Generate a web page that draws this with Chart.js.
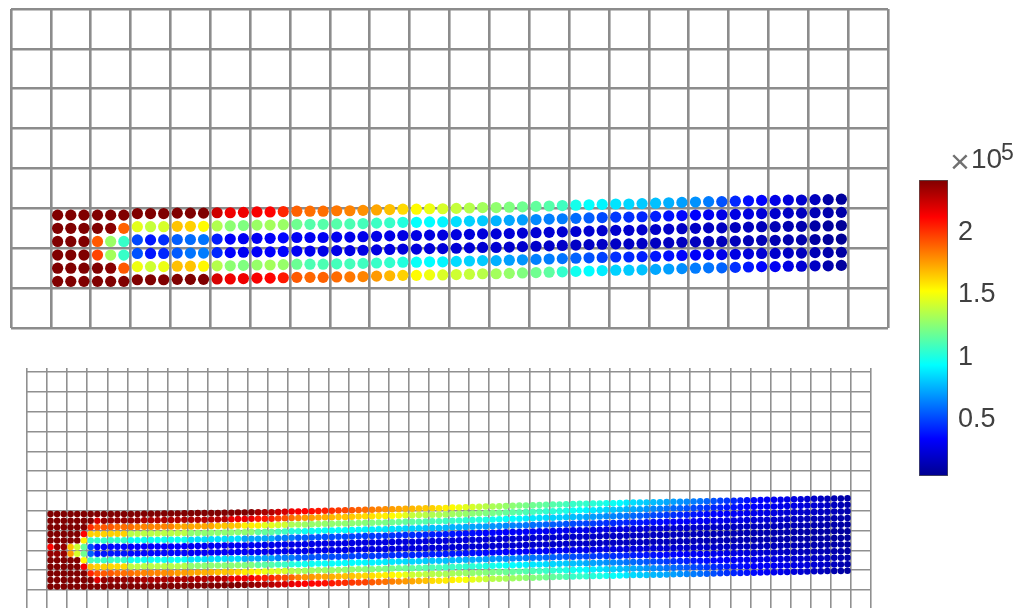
<!DOCTYPE html>
<html>
<head>
<meta charset="utf-8">
<script src="https://cdn.jsdelivr.net/npm/chart.js@4"></script>
<style>
  body { margin: 0; background: #fff; }
  canvas { position: absolute; filter: blur(0.45px); }
  #coarseMesh { left: 0; top: 0; }
  #fineMesh { left: 0; top: 360px; }
  #colorbar { left: 900px; top: 130px; }
</style>
</head>
<body>
<canvas id="coarseMesh" width="900" height="340"></canvas>
<canvas id="fineMesh" width="900" height="251"></canvas>
<canvas id="colorbar" width="119" height="360"></canvas>
<script>
// grid line positions, in mesh cells
const coarseGridX = [0,1,2,3,4,5,6,7,8,9,10,11,12,13,14,15,16,17,18,19,20,21,22];
const coarseGridY = [0,1,2,3,4,5,6,7,8];
const fineGridX = [0,1,2,3,4,5,6,7,8,9,10,11,12,13,14,15,16,17,18,19,20,21,22,23,24,25,26,27,28,29,30,31,32,33,34,35,36,37,38,39,40,41,42];
const fineGridY = [1,2,3,4,5,6,7,8,9,10,11,12];

// colorbar
const colorbarTicks = [0.5, 1, 1.5, 2];
const stressMin = 0.037;
const stressMax = 2.4;

// coarse mesh: node columns, node rows (top first), upward deflection per column
const coarseX = [1.17,1.5,1.83,2.17,2.5,2.83,3.17,3.5,3.83,4.17,4.5,4.83,5.17,5.5,5.83,6.17,6.5,6.83,7.17,7.5,7.83,8.17,8.5,8.83,9.17,9.5,9.83,10.17,10.5,10.83,
  11.17,11.5,11.83,12.17,12.5,12.83,13.17,13.5,13.83,14.17,14.5,14.83,15.17,15.5,15.83,16.17,16.5,16.83,17.17,17.5,17.83,18.17,18.5,18.83,19.17,19.5,19.83,20.17,20.5,20.83];
const coarseY = [2.83,2.5,2.17,1.83,1.5,1.17];
const coarseLift = [0,0,0,0,0,0,.04,.04,.04,.05,.05,.05,.06,.06,.07,.08,.08,.09,.1,.1,.1,.11,.11,.12,.13,.14,.15,.15,.16,.16,
  .17,.18,.19,.19,.2,.21,.22,.23,.24,.25,.26,.27,.28,.28,.29,.3,.31,.32,.33,.34,.34,.35,.36,.37,.37,.38,.38,.39,.39,.4];

// coarse mesh stress, x10^5, one row per list
const coarseRow0 = [2.4,2.4,2.4,2.4,2.4,2.4,2.4,2.4,2.4,2.4,2.4,2.4,2.22,2.14,2.14,2.12,2.1,2.02,1.88,1.85,
  1.85,1.83,1.8,1.77,1.72,1.66,1.6,1.52,1.47,1.42,1.38,1.34,1.3,1.26,1.22,1.18,1.15,1.12,1.07,.97,
  .93,.9,.86,.83,.8,.78,.74,.7,.67,.62,.52,.42,.36,.33,.27,.24,.2,.16,.1,.07];
const coarseRow1 = [2.4,2.4,2.4,2.4,2.38,1.88,1.45,1.38,1.42,1.65,1.62,1.52,1.33,1.25,1.22,1.28,1.3,1.28,1.18,1.12,
  1.12,1.12,1.1,1.08,1.06,1.05,1,.93,.92,.9,.85,.82,.8,.75,.72,.7,.65,.63,.62,.58,
  .55,.5,.46,.44,.42,.4,.37,.35,.33,.3,.27,.26,.25,.23,.2,.18,.16,.14,.12,.1];
const coarseRow2 = [2.4,2.4,2.4,1.9,1.28,1.05,.5,.38,.44,.55,.58,.6,.4,.32,.3,.3,.32,.34,.3,.3,
  .3,.29,.28,.28,.27,.27,.26,.26,.25,.25,.25,.24,.24,.23,.23,.22,.22,.22,.21,.21,
  .21,.2,.2,.2,.2,.19,.19,.18,.18,.17,.17,.16,.16,.15,.14,.13,.12,.1,.08,.06];
const coarseRow3 = [2.4,2.4,2.4,1.95,1.3,1.05,.52,.38,.42,.54,.6,.62,.42,.33,.3,.31,.33,.34,.3,.29,
  .27,.27,.26,.26,.25,.25,.24,.24,.23,.23,.22,.22,.21,.21,.2,.2,.19,.19,.19,.18,
  .18,.18,.18,.18,.18,.17,.17,.17,.16,.16,.15,.15,.14,.14,.13,.12,.11,.09,.07,.05];
const coarseRow4 = [2.4,2.4,2.4,2.4,2.38,1.9,1.48,1.4,1.47,1.66,1.65,1.53,1.34,1.25,1.22,1.27,1.3,1.27,1.17,1.1,
  1.1,1.08,1.08,1.07,1.05,1.04,1,.94,.92,.9,.84,.82,.8,.74,.7,.68,.63,.62,.6,.56,
  .52,.48,.44,.42,.4,.38,.36,.34,.32,.3,.28,.26,.24,.22,.2,.18,.16,.14,.12,.09];
const coarseRow5 = [2.4,2.4,2.4,2.4,2.4,2.4,2.4,2.4,2.4,2.4,2.4,2.4,2.2,2.14,2.14,2.12,2.1,2.05,1.9,1.87,
  1.88,1.86,1.83,1.8,1.75,1.68,1.62,1.52,1.48,1.43,1.4,1.38,1.35,1.3,1.27,1.22,1.18,1.14,1.04,.96,
  .92,.88,.82,.8,.78,.72,.7,.66,.62,.6,.56,.44,.38,.34,.3,.26,.22,.18,.12,.08];
const coarseStress = [coarseRow0, coarseRow1, coarseRow2, coarseRow3, coarseRow4, coarseRow5];

// fine mesh: same layout, twice the nodes
const fineX = [1.17,1.5,1.83,2.17,2.5,2.83,3.17,3.5,3.83,4.17,4.5,4.83,5.17,5.5,5.83,6.17,6.5,6.83,7.17,7.5,7.83,8.17,8.5,8.83,9.17,9.5,9.83,10.17,10.5,10.83,
  11.17,11.5,11.83,12.17,12.5,12.83,13.17,13.5,13.83,14.17,14.5,14.83,15.17,15.5,15.83,16.17,16.5,16.83,17.17,17.5,17.83,18.17,18.5,18.83,19.17,19.5,19.83,20.17,20.5,20.83,
  21.17,21.5,21.83,22.17,22.5,22.83,23.17,23.5,23.83,24.17,24.5,24.83,25.17,25.5,25.83,26.17,26.5,26.83,27.17,27.5,27.83,28.17,28.5,28.83,29.17,29.5,29.83,30.17,30.5,30.83,
  31.17,31.5,31.83,32.17,32.5,32.83,33.17,33.5,33.83,34.17,34.5,34.83,35.17,35.5,35.83,36.17,36.5,36.83,37.17,37.5,37.83,38.17,38.5,38.83,39.17,39.5,39.83,40.17,40.5,40.83];
const fineY = [4.83,4.5,4.17,3.83,3.5,3.17,2.83,2.5,2.17,1.83,1.5,1.17];
const fineLift = [0,0,0,0,0,0,0,0,0,.01,.01,.01,.01,.01,.02,.02,.02,.03,.03,.03,
  .04,.04,.05,.05,.06,.06,.07,.07,.08,.08,.09,.09,.1,.1,.11,.12,.13,.13,.14,.15,
  .16,.17,.17,.18,.19,.2,.21,.22,.22,.23,.24,.25,.26,.27,.27,.28,.29,.3,.3,.31,
  .33,.34,.35,.36,.37,.38,.39,.4,.41,.42,.43,.44,.45,.46,.47,.48,.49,.5,.51,.52,
  .52,.53,.54,.55,.55,.56,.57,.58,.58,.59,.6,.6,.61,.62,.63,.63,.64,.65,.65,.66,
  .67,.68,.68,.69,.7,.7,.71,.72,.72,.73,.74,.75,.75,.76,.77,.77,.78,.79,.79,.8];

const fineRow0 = [2.4,2.4,2.4,2.4,2.4,2.4,2.4,2.4,2.4,2.4,2.4,2.4,2.4,2.4,2.4,2.4,2.4,2.4,2.4,2.4,2.4,2.4,2.4,2.4,2.4,2.4,2.4,2.4,2.4,2.4,
  2.4,2.32,2.3,2.28,2.22,2.2,2.14,2.12,2.1,2.08,2.05,2.03,2,1.97,1.94,1.91,1.88,1.85,1.82,1.8,1.77,1.74,1.72,1.7,1.68,1.66,1.64,1.62,1.58,1.55,
  1.52,1.48,1.45,1.42,1.38,1.35,1.32,1.3,1.27,1.25,1.22,1.2,1.18,1.16,1.14,1.12,1.1,1.08,1.05,1.05,1.04,1.02,1,.97,.95,.92,.88,.85,.82,.8,
  .77,.75,.72,.7,.67,.65,.62,.6,.56,.52,.48,.45,.42,.4,.37,.35,.33,.32,.3,.28,.27,.25,.23,.21,.19,.17,.15,.13,.11,.1];
const fineRow1 = [2.4,2.4,2.4,2.4,2.4,2.4,2.4,2.2,2.35,2.35,2.35,2.35,2.35,2.35,2.3,2.3,2.3,2.3,2.3,2.3,2.3,2.3,2.3,2.28,2.28,2.28,2.28,2.15,2.15,2.15,
  2.15,2.05,2.05,2.03,1.95,1.92,1.85,1.8,1.75,1.74,1.72,1.7,1.68,1.66,1.65,1.64,1.62,1.6,1.58,1.56,1.55,1.52,1.5,1.45,1.38,1.36,1.35,1.33,1.32,1.31,
  1.3,1.28,1.27,1.25,1.24,1.22,1.2,1.18,1.16,1.14,1.12,1.1,1.08,1.06,1.04,1.02,1,.98,.95,.93,.9,.88,.85,.83,.8,.78,.75,.73,.7,.68,
  .65,.62,.6,.57,.55,.52,.5,.47,.45,.42,.4,.38,.37,.35,.34,.33,.32,.31,.29,.28,.27,.26,.25,.23,.22,.2,.18,.16,.14,.12];
const fineRow2 = [2.4,2.4,2.4,2.4,2.4,2.4,2,1.9,1.9,1.9,1.85,1.85,1.85,1.8,1.8,1.8,1.8,1.8,1.8,1.72,1.72,1.72,1.72,1.72,1.72,1.65,1.65,1.65,1.65,1.55,
  1.55,1.55,1.45,1.45,1.42,1.4,1.32,1.3,1.28,1.27,1.27,1.26,1.26,1.25,1.25,1.25,1.24,1.23,1.22,1.21,1.2,1.18,1.17,1.15,1.14,1.12,1.11,1.09,1.08,1.06,
  1.05,1.04,1.02,1.01,1,.98,.96,.95,.93,.92,.9,.88,.87,.85,.84,.82,.81,.8,.78,.75,.72,.7,.68,.66,.64,.62,.6,.57,.55,.52,
  .5,.48,.46,.44,.42,.4,.38,.37,.35,.34,.33,.32,.31,.3,.29,.28,.27,.26,.25,.23,.22,.21,.2,.19,.18,.17,.16,.15,.13,.12];
const fineRow3 = [2.4,2.4,2.4,2.4,2.4,2.1,1.62,1.62,1.62,1.62,1.62,1.62,1.35,1.35,1.35,1.35,1.35,1.35,1.35,1.35,1.35,1.25,1.25,1.25,1.25,1.25,1.25,1.25,1.25,1.25,
  1.25,1.15,1.15,1.14,1.08,1.07,1,1,.95,.95,.94,.94,.93,.93,.92,.92,.91,.9,.89,.88,.87,.86,.84,.83,.82,.81,.79,.78,.77,.76,
  .75,.74,.73,.72,.71,.7,.68,.67,.65,.64,.62,.61,.59,.58,.56,.55,.54,.52,.5,.49,.48,.47,.45,.44,.43,.42,.41,.39,.38,.37,
  .36,.35,.34,.33,.32,.32,.31,.3,.29,.28,.27,.26,.25,.25,.24,.23,.22,.21,.2,.19,.18,.17,.16,.15,.14,.14,.13,.12,.11,.1];
const fineRow4 = [2.4,2.4,2.4,2.4,2.4,1.55,1.05,1.05,1.05,1.05,1.05,1.05,.95,.95,.95,.95,.95,.95,.95,.95,.95,.85,.85,.85,.85,.85,.85,.85,.85,.72,
  .72,.72,.72,.72,.62,.62,.62,.55,.55,.54,.53,.52,.52,.51,.5,.5,.49,.48,.47,.46,.45,.45,.44,.43,.43,.42,.41,.4,.39,.39,
  .38,.37,.37,.36,.35,.34,.34,.33,.33,.32,.32,.32,.31,.31,.3,.3,.3,.29,.28,.28,.27,.27,.26,.26,.25,.25,.24,.24,.23,.23,
  .22,.22,.21,.21,.2,.2,.2,.19,.19,.18,.18,.18,.17,.17,.17,.16,.16,.16,.15,.15,.14,.14,.13,.13,.12,.12,.11,.11,.1,.09];
const fineRow5 = [2.1,2.35,2.35,1.65,1.4,1.15,.5,.35,.35,.35,.35,.35,.33,.33,.33,.33,.33,.33,.33,.33,.33,.3,.3,.3,.3,.3,.3,.3,.3,.3,
  .3,.29,.28,.28,.28,.28,.27,.27,.27,.27,.27,.26,.26,.26,.26,.26,.25,.25,.25,.25,.25,.25,.24,.24,.24,.24,.24,.23,.23,.23,
  .23,.23,.23,.23,.22,.22,.22,.22,.22,.22,.21,.21,.21,.21,.2,.2,.2,.2,.19,.19,.19,.19,.18,.18,.18,.18,.18,.17,.17,.17,
  .17,.16,.16,.16,.16,.15,.15,.15,.15,.14,.14,.14,.14,.13,.13,.13,.13,.12,.12,.12,.12,.11,.11,.1,.1,.1,.09,.09,.08,.07];
const fineRow6 = [2.35,2.35,2.35,1.75,1.42,1.18,.55,.38,.38,.38,.38,.38,.35,.35,.35,.35,.35,.35,.35,.35,.35,.31,.31,.31,.31,.31,.31,.31,.31,.31,
  .31,.3,.29,.29,.29,.28,.28,.28,.27,.27,.27,.27,.27,.26,.26,.26,.26,.25,.25,.25,.25,.24,.24,.24,.24,.24,.23,.23,.23,.23,
  .22,.22,.22,.22,.22,.22,.21,.21,.21,.21,.21,.2,.2,.2,.2,.19,.19,.19,.19,.19,.18,.18,.18,.18,.18,.17,.17,.17,.17,.16,
  .16,.16,.16,.15,.15,.15,.15,.14,.14,.14,.14,.13,.13,.13,.13,.12,.12,.12,.12,.11,.11,.11,.1,.1,.1,.09,.09,.08,.08,.07];
const fineRow7 = [2.4,2.4,2.4,2.4,2.4,1.52,1.08,1.06,1.06,1.05,1.05,1.05,.96,.96,.95,.95,.95,.95,.95,.94,.94,.86,.86,.85,.85,.85,.85,.84,.84,.74,
  .73,.72,.72,.71,.63,.62,.62,.56,.54,.53,.52,.52,.51,.5,.5,.49,.48,.47,.47,.46,.45,.44,.44,.43,.42,.42,.41,.4,.4,.39,
  .38,.38,.37,.36,.36,.35,.34,.34,.33,.33,.32,.32,.31,.31,.31,.3,.3,.29,.29,.28,.28,.27,.27,.26,.26,.25,.25,.24,.24,.23,
  .23,.22,.22,.21,.21,.2,.2,.2,.19,.19,.18,.18,.18,.17,.17,.16,.16,.16,.15,.15,.14,.14,.13,.13,.12,.12,.11,.1,.1,.08];
const fineRow8 = [2.4,2.4,2.4,2.4,2.4,2.12,1.65,1.62,1.62,1.6,1.6,1.6,1.36,1.36,1.35,1.35,1.35,1.35,1.34,1.34,1.34,1.26,1.25,1.25,1.25,1.24,1.24,1.24,1.24,1.22,
  1.22,1.14,1.14,1.12,1.07,1.06,1,.98,.96,.95,.95,.94,.94,.93,.93,.92,.92,.91,.9,.89,.88,.87,.85,.84,.83,.82,.8,.79,.78,.77,
  .76,.75,.74,.73,.72,.71,.69,.68,.66,.65,.63,.62,.6,.59,.57,.56,.54,.53,.51,.5,.49,.47,.46,.45,.44,.43,.41,.4,.39,.38,
  .37,.36,.35,.34,.33,.32,.31,.3,.3,.29,.28,.27,.26,.25,.24,.23,.22,.21,.2,.19,.18,.17,.16,.15,.15,.14,.13,.12,.11,.09];
const fineRow9 = [2.4,2.4,2.4,2.4,2.4,2.4,2.02,1.92,1.9,1.9,1.86,1.85,1.85,1.82,1.8,1.8,1.8,1.78,1.78,1.74,1.74,1.72,1.72,1.7,1.7,1.66,1.65,1.65,1.62,1.56,
  1.55,1.54,1.47,1.45,1.44,1.42,1.34,1.32,1.3,1.29,1.28,1.28,1.27,1.27,1.26,1.26,1.25,1.24,1.23,1.22,1.21,1.2,1.18,1.17,1.15,1.13,1.12,1.1,1.09,1.07,
  1.06,1.05,1.03,1.02,1,.99,.97,.95,.94,.92,.9,.89,.87,.86,.84,.83,.81,.8,.78,.76,.73,.71,.69,.67,.65,.63,.6,.58,.55,.53,
  .5,.48,.46,.44,.42,.4,.38,.37,.36,.34,.33,.32,.31,.3,.29,.28,.27,.26,.25,.24,.22,.21,.2,.19,.18,.17,.16,.14,.13,.11];
const fineRow10 = [2.4,2.4,2.4,2.4,2.4,2.4,2.4,2.18,2.35,2.35,2.35,2.35,2.35,2.33,2.3,2.3,2.3,2.3,2.3,2.3,2.3,2.3,2.28,2.28,2.28,2.28,2.26,2.17,2.15,2.15,
  2.13,2.06,2.04,2.02,1.96,1.93,1.87,1.8,1.76,1.75,1.73,1.72,1.7,1.68,1.66,1.65,1.63,1.61,1.59,1.57,1.55,1.53,1.51,1.46,1.4,1.38,1.36,1.35,1.33,1.32,
  1.31,1.29,1.28,1.26,1.25,1.23,1.21,1.19,1.17,1.15,1.13,1.11,1.09,1.07,1.05,1.03,1,.98,.96,.93,.91,.88,.86,.83,.81,.78,.76,.73,.71,.68,
  .66,.63,.6,.58,.55,.53,.5,.48,.45,.43,.41,.39,.37,.36,.34,.33,.32,.31,.3,.28,.27,.26,.25,.24,.22,.2,.18,.16,.13,.11];
const fineRow11 = [2.4,2.4,2.4,2.4,2.4,2.4,2.4,2.4,2.4,2.4,2.4,2.4,2.4,2.4,2.4,2.4,2.4,2.4,2.4,2.4,2.4,2.4,2.4,2.4,2.4,2.4,2.4,2.4,2.4,2.38,
  2.36,2.34,2.3,2.28,2.24,2.2,2.16,2.13,2.11,2.1,2.09,2.07,2.05,2.02,2,1.98,1.96,1.95,1.9,1.87,1.84,1.81,1.78,1.75,1.72,1.69,1.66,1.6,1.58,1.56,
  1.55,1.52,1.5,1.46,1.42,1.38,1.35,1.33,1.31,1.29,1.28,1.25,1.23,1.21,1.18,1.15,1.13,1.1,1.05,1.05,1.03,1.01,.99,.96,.94,.91,.87,.84,.81,.79,
  .76,.74,.72,.7,.67,.64,.62,.59,.55,.51,.47,.44,.41,.39,.37,.35,.33,.31,.29,.28,.26,.24,.22,.2,.18,.16,.14,.12,.1,.08];
const fineStress = [fineRow0, fineRow1, fineRow2, fineRow3, fineRow4, fineRow5, fineRow6, fineRow7, fineRow8, fineRow9, fineRow10, fineRow11];

// MATLAB jet
const jetPos = [0, 0.125, 0.375, 0.625, 0.875, 1];
const jetRgb = [[0,0,143],[0,0,255],[0,255,255],[255,255,0],[255,0,0],[128,0,0]];

function jetColor(v) {
    const t = Math.min(1, Math.max(0, (v - stressMin) / (stressMax - stressMin)));
    let i = 0;
    while (i < jetPos.length - 2 && t > jetPos[i + 1]) i++;
    const f = (t - jetPos[i]) / (jetPos[i + 1] - jetPos[i]);
    const c = jetRgb[i].map((a, k) => Math.round(a + (jetRgb[i + 1][k] - a) * f));
    return `rgb(${c[0]},${c[1]},${c[2]})`;
}

function meshPoints(xs, ys, lift, stress) {
    const points = [];
    stress.forEach((row, r) => {
        row.forEach((v, c) => {
            points.push({ x: xs[c], y: ys[r] + lift[c], v: v });
        });
    });
    return points;
}

function drawMesh(id, opts) {
    new Chart(document.getElementById(id), {
        type: 'scatter',
        data: {
            datasets: [{
                data: opts.points,
                pointRadius: opts.radius,
                pointHoverRadius: opts.radius,
                borderWidth: 0,
                backgroundColor: ctx => jetColor(ctx.raw ? ctx.raw.v : 1)
            }]
        },
        options: {
            responsive: false,
            animation: false,
            events: [],
            layout: { padding: opts.padding },
            plugins: { legend: { display: false }, tooltip: { enabled: false } },
            scales: {
                x: {
                    type: 'linear',
                    min: opts.xMin,
                    max: opts.xMax,
                    border: { display: false },
                    grid: { color: opts.lineColor, lineWidth: opts.lineWidth, drawTicks: false },
                    ticks: { display: false },
                    afterBuildTicks: axis => { axis.ticks = opts.gridX.map(value => ({ value })); }
                },
                y: {
                    type: 'linear',
                    min: opts.yMin,
                    max: opts.yMax,
                    border: { display: false },
                    grid: { color: opts.lineColor, lineWidth: opts.lineWidth, drawTicks: false },
                    ticks: { display: false },
                    afterBuildTicks: axis => { axis.ticks = opts.gridY.map(value => ({ value })); }
                }
            }
        }
    });
}

drawMesh('coarseMesh', {
    points: meshPoints(coarseX, coarseY, coarseLift, coarseStress),
    radius: 5.6,
    padding: { left: 11, right: 12, top: 9, bottom: 12 },
    xMin: 0, xMax: 22, yMin: 0, yMax: 8,
    gridX: coarseGridX, gridY: coarseGridY,
    lineColor: '#8c8c8c', lineWidth: 2.6
});

drawMesh('fineMesh', {
    points: meshPoints(fineX, fineY, fineLift, fineStress),
    radius: 3.25,
    padding: { left: 27, right: 29, top: 8, bottom: 0 },
    xMin: 0, xMax: 42, yMin: 0.1, yMax: 12.21,
    gridX: fineGridX, gridY: fineGridY,
    lineColor: '#909090', lineWidth: 1.6
});

// x10^5 label above the colorbar
const exponentLabel = {
    id: 'exponentLabel',
    afterDraw(chart) {
        const ctx = chart.ctx;
        ctx.save();
        ctx.textBaseline = 'alphabetic';
        ctx.fillStyle = '#707070';
        ctx.font = '34px "Liberation Sans"';
        ctx.fillText('×', 50, 43);
        ctx.fillStyle = '#404040';
        ctx.font = '28px "Liberation Sans"';
        ctx.fillText('10', 71, 38);
        ctx.font = '23px "Liberation Sans"';
        ctx.fillText('5', 101, 30);
        ctx.restore();
    }
};

new Chart(document.getElementById('colorbar'), {
    type: 'bar',
    data: {
        labels: [''],
        datasets: [{
            data: [[stressMin, stressMax]],
            borderColor: '#555',
            borderWidth: 1,
            borderSkipped: false,
            barPercentage: 1,
            categoryPercentage: 1,
            backgroundColor: ctx => {
                const area = ctx.chart.chartArea;
                if (!area) return '#00f';
                const g = ctx.chart.ctx.createLinearGradient(0, area.bottom, 0, area.top);
                jetPos.forEach((p, i) => g.addColorStop(p, `rgb(${jetRgb[i].join(',')})`));
                return g;
            }
        }]
    },
    options: {
        responsive: false,
        animation: false,
        events: [],
        layout: { padding: { left: 19, right: 0, top: 50, bottom: 14 } },
        plugins: { legend: { display: false }, tooltip: { enabled: false } },
        scales: {
            x: { display: false },
            y: {
                position: 'right',
                min: stressMin,
                max: stressMax,
                border: { display: false },
                grid: { display: false },
                ticks: {
                    padding: 2,
                    labelOffset: 2,
                    color: '#404040',
                    font: { size: 27, family: '"Liberation Sans"' },
                    callback: value => String(value)
                },
                afterBuildTicks: axis => { axis.ticks = colorbarTicks.map(value => ({ value })); },
                afterFit: axis => {
                    axis.width = 71;
                    axis.paddingTop = 0;
                    axis.paddingBottom = 0;
                }
            }
        }
    },
    plugins: [exponentLabel]
});
</script>
</body>
</html>
